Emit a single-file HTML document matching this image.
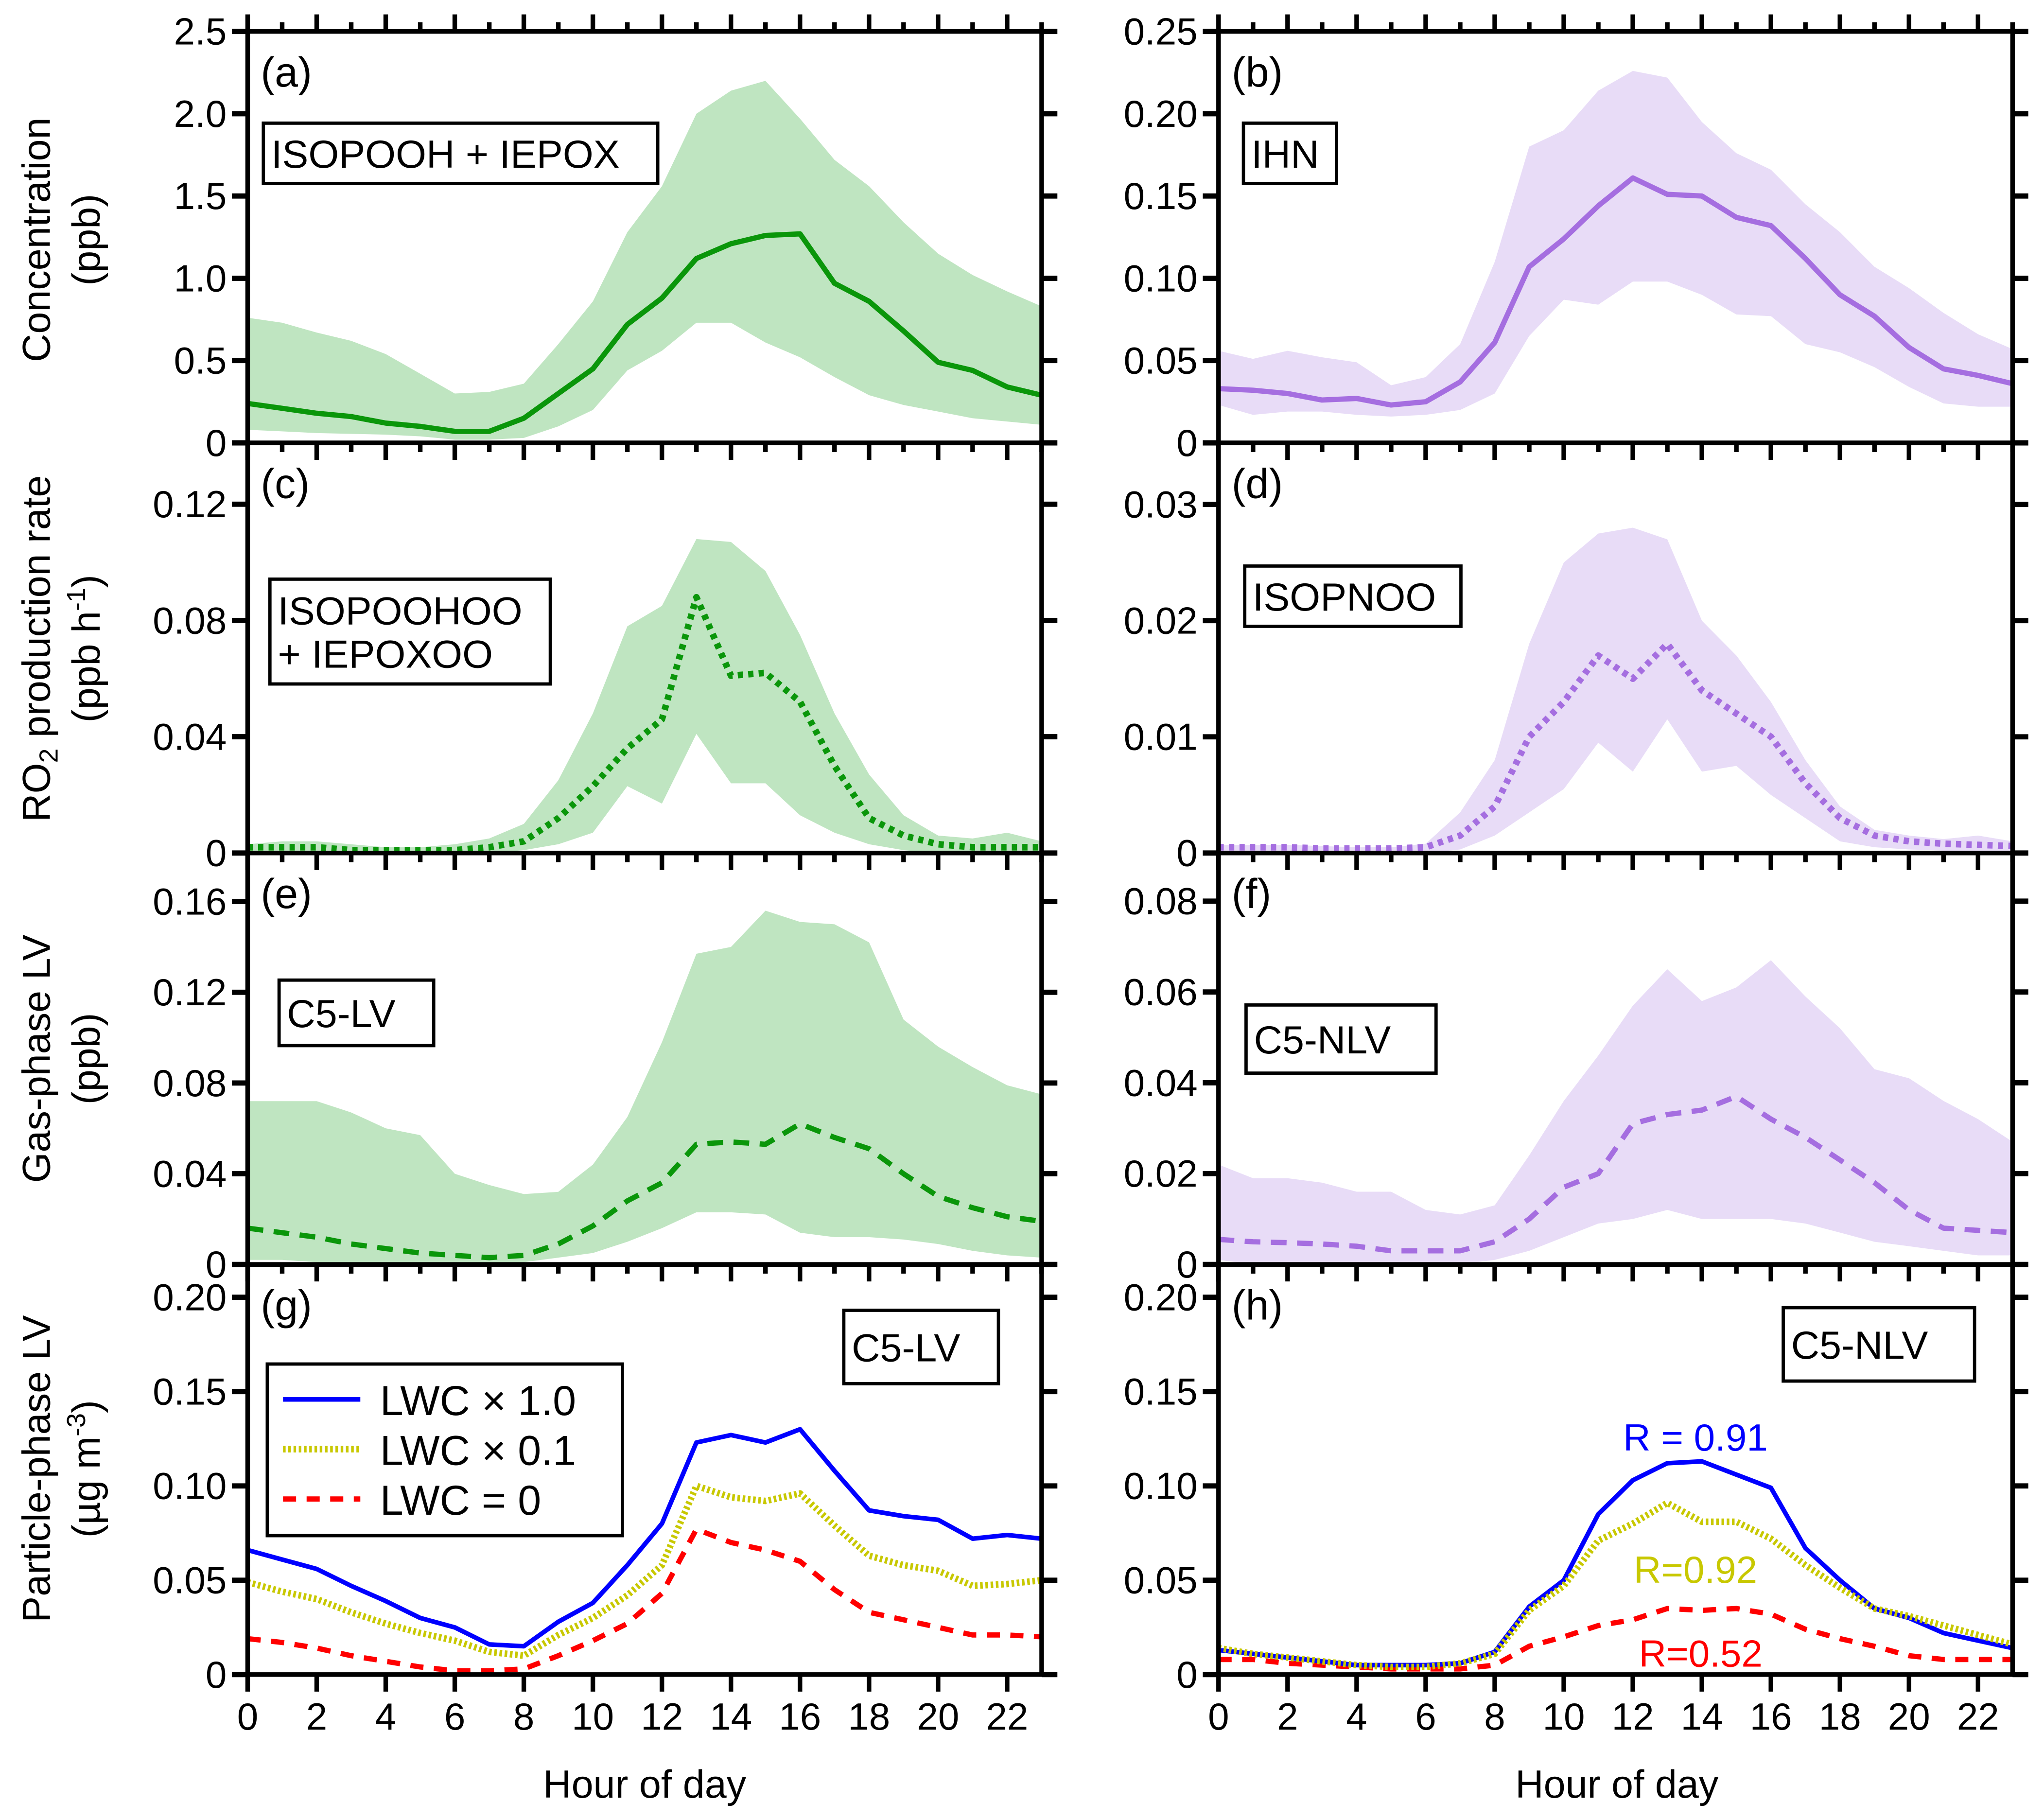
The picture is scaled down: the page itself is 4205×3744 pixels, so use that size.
<!DOCTYPE html>
<html><head><meta charset="utf-8"><style>
html,body{margin:0;padding:0;background:#fff;}
svg{display:block;}
text{font-family:"Liberation Sans",Arial,sans-serif;}
</style></head><body>
<svg id="fig" xmlns="http://www.w3.org/2000/svg" width="4205" height="3744" viewBox="0 0 1560 1389" preserveAspectRatio="none"></svg>
<script>
const hours=[0,1,2,3,4,5,6,7,8,9,10,11,12,13,14,15,16,17,18,19,20,21,22,23];
const aMean=[0.24,0.21,0.18,0.16,0.12,0.10,0.07,0.07,0.15,0.30,0.45,0.72,0.88,1.12,1.21,1.26,1.27,0.97,0.86,0.68,0.49,0.44,0.34,0.29];
const aUp=[0.76,0.73,0.67,0.62,0.54,0.42,0.30,0.31,0.36,0.60,0.86,1.28,1.56,2.00,2.14,2.20,1.97,1.72,1.56,1.34,1.15,1.02,0.92,0.83];
const aLo=[0.08,0.07,0.06,0.055,0.05,0.04,0.02,0.02,0.03,0.10,0.20,0.44,0.56,0.73,0.73,0.61,0.52,0.40,0.29,0.23,0.19,0.15,0.13,0.11];
const bMean=[0.033,0.032,0.030,0.026,0.027,0.023,0.025,0.037,0.061,0.107,0.124,0.144,0.161,0.151,0.150,0.137,0.132,0.112,0.090,0.077,0.058,0.045,0.041,0.036];
const bUp=[0.056,0.051,0.056,0.052,0.049,0.035,0.040,0.060,0.110,0.180,0.190,0.214,0.226,0.222,0.195,0.176,0.166,0.145,0.128,0.107,0.094,0.079,0.066,0.057];
const bLo=[0.023,0.017,0.019,0.019,0.017,0.016,0.017,0.020,0.030,0.065,0.087,0.084,0.098,0.098,0.090,0.078,0.077,0.060,0.055,0.046,0.034,0.024,0.022,0.022];
const cMean=[0.002,0.002,0.002,0.001,0.001,0.001,0.001,0.002,0.004,0.012,0.023,0.036,0.046,0.088,0.061,0.062,0.052,0.030,0.012,0.006,0.003,0.002,0.002,0.002];
const cUp=[0.003,0.004,0.004,0.003,0.002,0.002,0.003,0.005,0.010,0.025,0.048,0.078,0.085,0.108,0.107,0.097,0.075,0.048,0.027,0.013,0.006,0.005,0.007,0.004];
const cLo=[0,0,0,0,0,0,0,0,0.001,0.003,0.007,0.023,0.017,0.041,0.024,0.024,0.013,0.007,0.003,0.001,0,0,0,0];
const dMean=[0.0005,0.0005,0.0005,0.0004,0.0004,0.0004,0.0005,0.0015,0.004,0.010,0.013,0.017,0.015,0.018,0.014,0.012,0.010,0.006,0.003,0.0015,0.001,0.0008,0.0007,0.0006];
const dUp=[0.0007,0.0007,0.0007,0.0006,0.0005,0.0005,0.0008,0.0035,0.008,0.018,0.025,0.0275,0.028,0.027,0.020,0.017,0.013,0.008,0.004,0.002,0.0015,0.0012,0.0015,0.0010];
const dLo=[0,0,0,0,0,0,0,0.0003,0.0015,0.0035,0.0055,0.0095,0.007,0.0115,0.007,0.0075,0.005,0.003,0.001,0.0005,0.0003,0.0002,0.0002,0.0002];
const eMean=[0.016,0.014,0.012,0.009,0.007,0.005,0.004,0.003,0.004,0.009,0.017,0.028,0.036,0.053,0.054,0.053,0.062,0.056,0.051,0.040,0.030,0.025,0.021,0.019];
const eUp=[0.072,0.072,0.072,0.067,0.060,0.057,0.040,0.035,0.031,0.032,0.044,0.065,0.098,0.137,0.140,0.156,0.151,0.150,0.142,0.108,0.096,0.087,0.079,0.075];
const eLo=[0.002,0.002,0.001,0.001,0.001,0.001,0.001,0.001,0.001,0.003,0.005,0.010,0.016,0.023,0.023,0.022,0.014,0.012,0.012,0.011,0.009,0.006,0.004,0.003];
const fMean=[0.0055,0.005,0.0048,0.0045,0.004,0.003,0.003,0.003,0.005,0.010,0.017,0.020,0.031,0.033,0.034,0.037,0.032,0.028,0.023,0.018,0.012,0.008,0.0075,0.007];
const fUp=[0.022,0.019,0.019,0.018,0.016,0.016,0.012,0.011,0.013,0.024,0.036,0.046,0.057,0.065,0.058,0.061,0.067,0.059,0.052,0.043,0.041,0.036,0.032,0.027];
const fLo=[0.001,0,0,0,0,0,0,0,0.001,0.003,0.006,0.009,0.010,0.012,0.010,0.010,0.010,0.009,0.007,0.005,0.004,0.003,0.002,0.002];
const gBlue=[0.066,0.061,0.056,0.047,0.039,0.030,0.025,0.016,0.015,0.028,0.038,0.058,0.080,0.123,0.127,0.123,0.130,0.108,0.087,0.084,0.082,0.072,0.074,0.072];
const gYel=[0.049,0.044,0.040,0.033,0.027,0.022,0.018,0.012,0.010,0.021,0.030,0.042,0.058,0.100,0.094,0.092,0.096,0.079,0.063,0.058,0.055,0.047,0.048,0.050];
const gRed=[0.019,0.017,0.014,0.010,0.007,0.004,0.002,0.002,0.003,0.010,0.018,0.027,0.043,0.077,0.070,0.066,0.060,0.045,0.033,0.029,0.025,0.021,0.021,0.020];
const hBlue=[0.013,0.011,0.009,0.007,0.005,0.005,0.005,0.006,0.012,0.036,0.050,0.085,0.103,0.112,0.113,0.106,0.099,0.067,0.050,0.035,0.030,0.022,0.018,0.014];
const hYel=[0.014,0.011,0.009,0.007,0.005,0.004,0.004,0.006,0.011,0.034,0.047,0.071,0.080,0.091,0.081,0.081,0.072,0.058,0.046,0.035,0.031,0.026,0.021,0.016];
const hRed=[0.008,0.008,0.006,0.005,0.004,0.003,0.003,0.003,0.005,0.015,0.020,0.026,0.029,0.035,0.034,0.035,0.032,0.024,0.019,0.015,0.010,0.008,0.008,0.008];
const xTickLabels=["0","2","4","6","8","10","12","14","16","18","20","22"];
const aTicks=["0","0.5","1.0","1.5","2.0","2.5"];
const bTicks=["0","0.05","0.10","0.15","0.20","0.25"];
const cTicks=["0","0.04","0.08","0.12"];
const dTicks=["0","0.01","0.02","0.03"];
const eTicks=["0","0.04","0.08","0.12","0.16"];
const fTicks=["0","0.02","0.04","0.06","0.08"];
const ghTicks=["0","0.05","0.10","0.15","0.20"];

const NS="http://www.w3.org/2000/svg";
const svg=document.getElementById('fig');
function el(tag,attrs,parent){const e=document.createElementNS(NS,tag);for(const k in attrs)e.setAttribute(k,attrs[k]);(parent||svg).appendChild(e);return e;}
const GREEN="#0a960a",GFILL="#bfe5c1",PURP="#a56ee0",PFILL="#e8dcf7";
const colsX=[189,930], W=606;
const rows=[[24,338],[338,651],[651,965],[965,1278]];

function panel(col,row,ymax,ticks,name){
  const x0=colsX[col],x1=x0+W,y0=rows[row][0],y1=rows[row][1];
  const sx=h=>x0+(h/23)*W;
  const sy=v=>y1-(v/ymax)*(y1-y0);
  const g=el('g',{});
  
  
  return {g,sx,sy,x0,x1,y0,y1};
}
function band(p,up,lo,fill){
  let d='';
  hours.forEach((h,i)=>{d+=(i?'L':'M')+p.sx(h).toFixed(1)+','+p.sy(up[i]).toFixed(1);});
  for(let i=hours.length-1;i>=0;i--)d+='L'+p.sx(hours[i]).toFixed(1)+','+p.sy(lo[i]).toFixed(1);
  const e=el('path',{d:d+'Z',fill:fill,stroke:'none'},p.g);
  
  
}
function line(p,vals,color,dash,w,name){
  const pts=hours.map((h,i)=>p.sx(h).toFixed(1)+','+p.sy(vals[i]).toFixed(1)).join(' ');
  const a={points:pts,fill:'none',stroke:color,'stroke-width':w,'stroke-linejoin':'round'};
  if(dash)a['stroke-dasharray']=dash;
  const e=el('polyline',a,p.g);
  
  
}
function axes(p,ticks,ymax,step,isTop,isBottom){
  const g=el('g',{},p.g);
  
  
  el('rect',{x:p.x0,y:p.y0,width:W,height:p.y1-p.y0,fill:'none',stroke:'#000','stroke-width':3.5},g);
  hours.forEach(h=>{
    const len=h%2===0?13:7;
    const x=p.sx(h);
    if(isBottom){ if(h%2===0) el('line',{x1:x,y1:p.y1,x2:x,y2:p.y1+13,stroke:'#000','stroke-width':3.5},g); }
    else el('line',{x1:x,y1:p.y1,x2:x,y2:p.y1+len,stroke:'#000','stroke-width':3.5},g);
    if(isTop) el('line',{x1:x,y1:p.y0,x2:x,y2:p.y0-len,stroke:'#000','stroke-width':3.5},g);
  });
  ticks.forEach((t,i)=>{
    const v=i*step,y=p.sy(v);
    el('line',{x1:p.x0-12,y1:y,x2:p.x0,y2:y,stroke:'#000','stroke-width':4},g);
    el('line',{x1:p.x1,y1:y,x2:p.x1+12,y2:y,stroke:'#000','stroke-width':4},g);
    const tx=el('text',{x:p.x0-16,y:y+10,'font-size':29,'text-anchor':'end'},g);
    tx.textContent=t;
    
    
  });
  if(isBottom){
    xTickLabels.forEach(t=>{
      const tx=el('text',{x:p.sx(+t),y:p.y1+42,'font-size':29,'text-anchor':'middle'},g);
      tx.textContent=t;
      
      
    });
  }
}
function label(p,txt){
  const t=el('text',{x:p.x0+10,y:p.y0+42,'font-size':32},p.g);
  t.textContent=txt;
  
  
}
function box(p,x,y,w,h,lines,name){
  const g=el('g',{},p.g);
  
  
  el('rect',{x:x,y:y,width:w,height:h,fill:'#fff',stroke:'#000','stroke-width':2.5},g);
  const n=lines.length;
  lines.forEach((l,i)=>{const t=el('text',{x:x+6,y:y+h/2+11+(i-(n-1)/2)*33,'font-size':30},g);t.textContent=l;});
}

let p=panel(0,0,2.5,aTicks,'panel-a');
band(p,aUp,aLo,GFILL);line(p,aMean,GREEN,null,4,'mean-line');
axes(p,aTicks,2.5,0.5,true,false);label(p,'(a)');
box(p,201,94,301,46,['ISOPOOH + IEPOX'],'species-label');
p=panel(1,0,0.25,bTicks,'panel-b');
band(p,bUp,bLo,PFILL);line(p,bMean,PURP,null,4,'mean-line');
axes(p,bTicks,0.25,0.05,true,false);label(p,'(b)');
box(p,949,94,71,46,['IHN'],'species-label');
p=panel(0,1,0.1411,cTicks,'panel-c');
band(p,cUp,cLo,GFILL);line(p,cMean,GREEN,'4,4',5,'mean-line');
axes(p,cTicks,0.1411,0.04,false,false);label(p,'(c)');
box(p,206,442,214,80,['ISOPOOHOO','+ IEPOXOO'],'species-label');
p=panel(1,1,0.0353,dTicks,'panel-d');
band(p,dUp,dLo,PFILL);line(p,dMean,PURP,'4,4',5,'mean-line');
axes(p,dTicks,0.0353,0.01,false,false);label(p,'(d)');
box(p,950,432,165,46,['ISOPNOO'],'species-label');
p=panel(0,2,0.1814,eTicks,'panel-e');
band(p,eUp,eLo,GFILL);line(p,eMean,GREEN,'12,8',4,'mean-line');
axes(p,eTicks,0.1814,0.04,false,false);label(p,'(e)');
box(p,213,748,118,50,['C5-LV'],'species-label');
p=panel(1,2,0.0906,fTicks,'panel-f');
band(p,fUp,fLo,PFILL);line(p,fMean,PURP,'12,8',4,'mean-line');
axes(p,fTicks,0.0906,0.02,false,false);label(p,'(f)');
box(p,951,767,145,52,['C5-NLV'],'species-label');
p=panel(0,3,0.2174,ghTicks,'panel-g');
line(p,gRed,'#ff0000','10,8',4,'lwc-0-line');
line(p,gYel,'#c8c800','2,2',5,'lwc-0.1-line');
line(p,gBlue,'#0000ff',null,3.5,'lwc-1.0-line');
axes(p,ghTicks,0.2174,0.05,false,true);label(p,'(g)');
box(p,644,1000,118,56,['C5-LV'],'species-label');
{
  const lg=el('g',{},p.g);
  
  
  el('rect',{x:204,y:1041,width:271,height:131,fill:'#fff',stroke:'#000','stroke-width':2.5},lg);
  const items=[['LWC × 1.0','#0000ff',null,3.5],['LWC × 0.1','#c8c800','2,2',5],['LWC = 0','#ff0000','10,8',4]];
  items.forEach((it,i)=>{
    const y=1068+i*38;
    const a={x1:216,y1:y,x2:275,y2:y,stroke:it[1],'stroke-width':it[3]};
    if(it[2])a['stroke-dasharray']=it[2];
    el('line',a,lg);
    const t=el('text',{x:290,y:y+12,'font-size':32},lg);t.textContent=it[0];
    
    
  });
}
p=panel(1,3,0.2174,ghTicks,'panel-h');
line(p,hRed,'#ff0000','10,8',4,'lwc-0-line');
line(p,hBlue,'#0000ff',null,3.5,'lwc-1.0-line');
line(p,hYel,'#c8c800','2,2',5,'lwc-0.1-line');
axes(p,ghTicks,0.2174,0.05,false,true);label(p,'(h)');
box(p,1361,998,146,56,['C5-NLV'],'species-label');
[['R = 0.91','#0000ff',1294,1107],['R=0.92','#c8c800',1294,1208],['R=0.52','#ff0000',1298,1272]].forEach(r=>{
  const t=el('text',{x:r[2],y:r[3],'font-size':29,'text-anchor':'middle',fill:r[1]});
  t.textContent=r[0];
  
  
});

function ytitle(cx,cy,html,name){
  const t=el('text',{x:0,y:0,'font-size':30,'text-anchor':'middle',transform:`translate(${cx},${cy}) rotate(-90)`});
  t.innerHTML=html;
  
  
}
ytitle(38,183,'Concentration','y-axis-title-a');
ytitle(76,183,'(ppb)','y-axis-unit-a');
ytitle(38,495,'RO<tspan font-size="20" dy="6">2</tspan><tspan dy="-6"> production rate</tspan>','y-axis-title-c');
ytitle(76,495,'(ppb h<tspan font-size="20" dy="-11">-1</tspan><tspan dy="11">)</tspan>','y-axis-unit-c');
ytitle(38,808,'Gas-phase LV','y-axis-title-e');
ytitle(76,808,'(ppb)','y-axis-unit-e');
ytitle(38,1121,'Particle-phase LV','y-axis-title-g');
ytitle(76,1121,'(µg m<tspan font-size="20" dy="-11">-3</tspan><tspan dy="11">)</tspan>','y-axis-unit-g');
[[492,'x-axis-title-left'],[1234,'x-axis-title-right']].forEach(a=>{
  const t=el('text',{x:a[0],y:1372,'font-size':30,'text-anchor':'middle'});
  t.textContent='Hour of day';
  
  
});
</script>
</body></html>
